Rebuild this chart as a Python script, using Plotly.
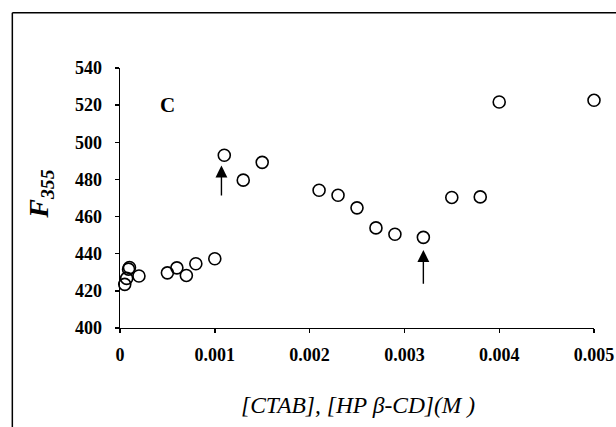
import plotly.graph_objects as go

# Data
conc = [0.00005, 0.00007, 0.00009, 0.0001, 0.0002, 0.0005, 0.0006, 0.0007, 0.0008, 0.001,
        0.0011, 0.0013, 0.0015, 0.0021, 0.0023, 0.0025, 0.0027, 0.0029, 0.0032, 0.0035,
        0.0038, 0.004, 0.005]
f355 = [423.5, 426.7, 431.7, 432.6, 428.0, 429.7, 432.4, 428.3, 434.6, 437.3,
        493.0, 479.6, 489.2, 474.2, 471.5, 464.7, 453.9, 450.5, 448.8, 470.3,
        470.6, 521.7, 522.6]

x_ticks = [0, 0.001, 0.002, 0.003, 0.004, 0.005]
x_tick_labels = ["0", "0.001", "0.002", "0.003", "0.004", "0.005"]
y_ticks = [400, 420, 440, 460, 480, 500, 520, 540]

arrow_x = [0.00107, 0.0032]
arrow_tip = [487.5, 442.0]
arrow_tail = [470.5, 423.0]

panel_label = "C"
panel_label_xy = (0.0005, 520)

W, H = 616, 427
PX0, PX1 = 120.3, 594.0   # plot area left/right in pixels
PY0, PY1 = 68.0, 328.0    # plot area top/bottom in pixels
PW, PH = PX1 - PX0, PY1 - PY0


def px(x):
    return (x - PX0) / PW


def py(y):
    return (PY1 - y) / PH


fig = go.Figure()
fig.add_trace(go.Scatter(
    x=conc, y=f355, mode="markers",
    marker=dict(symbol="circle-open", size=12, color="black", line=dict(width=1.6, color="black")),
    cliponaxis=False, showlegend=False, hoverinfo="skip",
))

for ax_, tip, tail in zip(arrow_x, arrow_tip, arrow_tail):
    fig.add_annotation(
        x=ax_, y=tip, ax=ax_, ay=tail, xref="x", yref="y", axref="x", ayref="y",
        showarrow=True, arrowhead=2, arrowsize=1.7, arrowwidth=1.4, arrowcolor="black", text="",
    )

fig.add_annotation(
    x=panel_label_xy[0], y=panel_label_xy[1], xref="x", yref="y", showarrow=False,
    text="<b>" + panel_label + "</b>", xanchor="center", yanchor="middle",
    font=dict(family="Liberation Serif", size=21, color="black"),
)

tick_font = dict(family="Liberation Serif", size=18, color="black", weight="bold")

fig.update_xaxes(
    range=[0, 0.005], tickvals=x_ticks, ticktext=x_tick_labels,
    showline=True, linecolor="black", linewidth=1.4, ticks="outside", ticklen=4,
    tickcolor="black", tickwidth=1.4, showgrid=False, zeroline=False,
    tickfont=tick_font, ticklabelstandoff=6,
)
fig.update_yaxes(
    range=[400, 540], tickvals=y_ticks,
    showline=True, linecolor="black", linewidth=1.4, ticks="outside", ticklen=4,
    tickcolor="black", tickwidth=1.4, showgrid=False, zeroline=False,
    tickfont=tick_font, ticklabelstandoff=9,
)

# axis titles
fig.add_annotation(
    x=px(358), y=py(405), xref="paper", yref="paper", showarrow=False,
    xanchor="center", yanchor="middle",
    text="<i>[CTAB], [HP β-CD](M )</i>",
    font=dict(family="Liberation Serif", size=23.5, color="black"),
)
fig.add_annotation(
    x=px(40), y=py(194), xref="paper", yref="paper", showarrow=False,
    xanchor="center", yanchor="middle",
    textangle=-90,
    text="<b><i>F</i></b><sub><b><i>355</i></b></sub>",
    font=dict(family="Liberation Serif", size=28, color="black"),
)

# outer frame lines (top and left)
fig.add_shape(type="line", xref="paper", yref="paper", x0=px(12.7), x1=px(616),
              y0=py(12.7), y1=py(12.7), line=dict(color="black", width=1.5))
fig.add_shape(type="line", xref="paper", yref="paper", x0=px(12.7), x1=px(12.7),
              y0=py(12.7), y1=py(427), line=dict(color="black", width=1.5))

fig.update_layout(
    width=W, height=H,
    margin=dict(l=PX0, r=W - PX1, t=PY0, b=H - PY1, autoexpand=False),
    paper_bgcolor="white", plot_bgcolor="white",
    font=dict(family="Liberation Serif", color="black"),
    hovermode=False,
)

fig.write_html(
    "out.html",
    config={"displayModeBar": False, "staticPlot": True},
    post_script="document.body.style.margin='0';document.body.style.overflow='hidden';",
)
